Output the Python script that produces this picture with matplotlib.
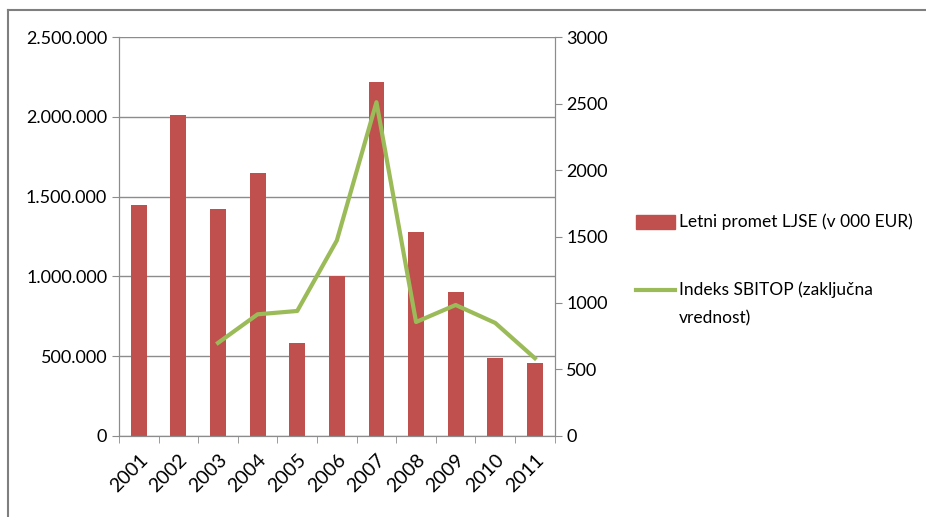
import matplotlib.pyplot as plt
import matplotlib.ticker as mticker
from matplotlib.patches import Rectangle
import numpy as np

# data
years = ['2001', '2002', '2003', '2004', '2005', '2006', '2007', '2008', '2009', '2010', '2011']
promet = [1450000, 2010000, 1420000, 1650000, 580000, 1000000, 2220000, 1280000, 900000, 490000, 460000]
sbitop_years = ['2003', '2004', '2005', '2006', '2007', '2008', '2009', '2010', '2011']
sbitop = [700, 915, 940, 1470, 2510, 857, 985, 850, 585]
labels = ['Letni promet LJSE (v 000 EUR)', 'Indeks SBITOP (zaključna', 'vrednost)']

plt.rcParams['font.family'] = ['Lato', 'DejaVu Sans']

red = '#C0504D'
green = '#9BBB59'
grid = '#8C8C8C'
W, H = 926, 517

fig = plt.figure(figsize=(9.26, 5.17), dpi=100)
ax = fig.add_axes([0.1285, 0.1567, 0.4705, 0.7717])

x = np.arange(len(years))
ax.bar(x, promet, width=0.4, color=red, zorder=2)
ax.set_xlim(-0.5, len(years) - 0.5)
ax.set_ylim(0, 2500000)
ax.set_yticks(np.arange(0, 2500001, 500000))
ax.yaxis.set_major_formatter(mticker.FuncFormatter(lambda v, p: f'{int(v):,}'.replace(',', '.')))
ax.grid(axis='y', color=grid, linewidth=1, zorder=0)
ax.set_xticks(x)
ax.set_xticklabels(years, rotation=45, ha='right', rotation_mode='anchor')
ax.set_xticks(np.arange(-0.5, len(years)), minor=True)
ax.tick_params(axis='x', which='major', length=0, labelsize=14, pad=11)
ax.tick_params(axis='x', which='minor', length=5, color=grid)
ax.tick_params(axis='y', length=5, color=grid, labelsize=13)

ax2 = ax.twinx()
xi = [years.index(y) for y in sbitop_years]
ax2.plot(xi, sbitop, color=green, linewidth=3, zorder=3)
ax2.set_ylim(0, 3000)
ax2.set_yticks(np.arange(0, 3001, 500))
ax2.tick_params(axis='y', length=5, color=grid, labelsize=13)

for a in (ax, ax2):
    a.spines['top'].set_visible(False)
    for s in ('left', 'right', 'bottom'):
        a.spines[s].set_color(grid)

# legend, drawn by hand to match the two-line entry
fig.add_artist(Rectangle((636 / W, 1 - 229 / H), 39 / W, 14 / H, color=red, transform=fig.transFigure))
fig.add_artist(plt.Line2D([636 / W, 675 / W], [1 - 290 / H, 1 - 290 / H], color=green, linewidth=3))
fig.text(679 / W, 1 - 222 / H, labels[0], fontsize=12.5, va='center', ha='left')
fig.text(679 / W, 1 - 290 / H, labels[1], fontsize=12.5, va='center', ha='left')
fig.text(679 / W, 1 - 318 / H, labels[2], fontsize=12.5, va='center', ha='left')

# outer frame
fig.add_artist(plt.Line2D([0.009, 0.009], [0.0, 0.981], color='#7F7F7F', linewidth=1.5))
fig.add_artist(plt.Line2D([0.009, 1.0], [0.981, 0.981], color='#7F7F7F', linewidth=1.5))

fig.savefig('out.png', dpi=100)
